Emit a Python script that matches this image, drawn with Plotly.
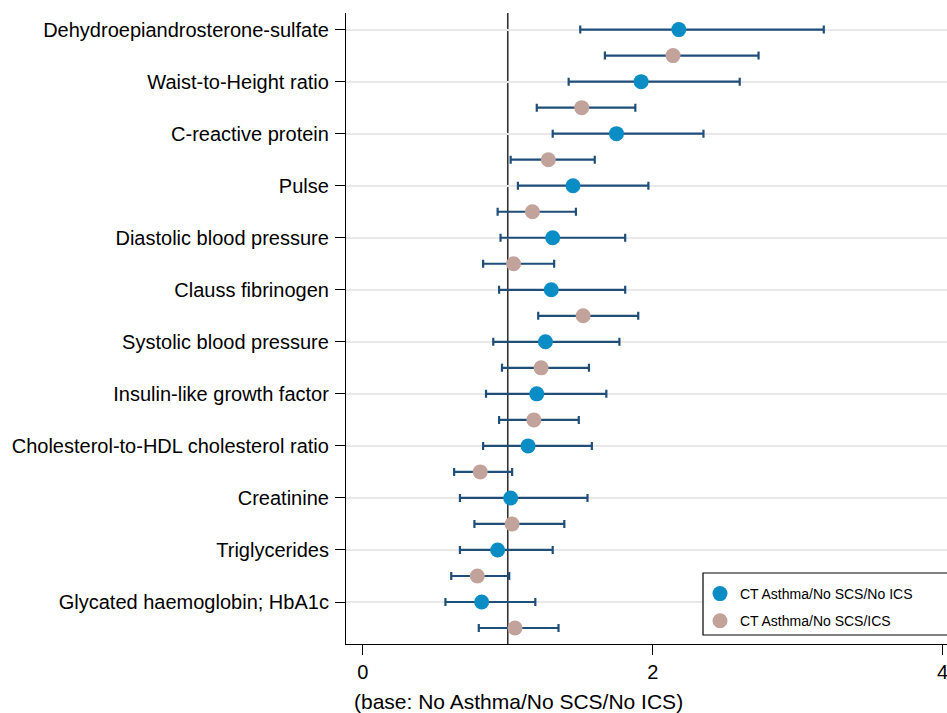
import plotly.graph_objects as go

categories = [
    "Dehydroepiandrosterone-sulfate",
    "Waist-to-Height ratio",
    "C-reactive protein",
    "Pulse",
    "Diastolic blood pressure",
    "Clauss fibrinogen",
    "Systolic blood pressure",
    "Insulin-like growth factor",
    "Cholesterol-to-HDL cholesterol ratio",
    "Creatinine",
    "Triglycerides",
    "Glycated haemoglobin; HbA1c",
]

# CT Asthma/No SCS/No ICS
noics_est = [2.18, 1.92, 1.75, 1.45, 1.31, 1.30, 1.26, 1.20, 1.14, 1.02, 0.93, 0.82]
noics_lo = [1.50, 1.42, 1.31, 1.07, 0.95, 0.94, 0.90, 0.85, 0.83, 0.67, 0.67, 0.57]
noics_hi = [3.18, 2.60, 2.35, 1.97, 1.81, 1.81, 1.77, 1.68, 1.58, 1.55, 1.31, 1.19]

# CT Asthma/No SCS/ICS
ics_est = [2.14, 1.51, 1.28, 1.17, 1.04, 1.52, 1.23, 1.18, 0.81, 1.03, 0.79, 1.05]
ics_lo = [1.67, 1.20, 1.02, 0.93, 0.83, 1.21, 0.96, 0.94, 0.63, 0.77, 0.61, 0.80]
ics_hi = [2.73, 1.88, 1.60, 1.47, 1.32, 1.90, 1.56, 1.49, 1.03, 1.39, 1.01, 1.35]

series_names = ["CT Asthma/No SCS/No ICS", "CT Asthma/No SCS/ICS"]
x_ticks = [0, 2, 4]
x_title = "(base: No Asthma/No SCS/No ICS)"

BLUE = "#0a8cc4"
TAUPE = "#c1a39b"
NAVY = "#1f4e79"
FONT = "Liberation Sans, Arial, Helvetica, sans-serif"

pos = list(range(len(categories)))
pos_ics = [p + 0.5 for p in pos]

fig = go.Figure()


def add_series(name, est, lo, hi, ypos, color, group):
    fig.add_trace(go.Scatter(
        x=est, y=ypos, mode="markers", name=name,
        legendgroup=group,
        marker=dict(color=color, size=15, line=dict(width=0)),
        error_x=dict(type="data", symmetric=False,
                     array=[h - e for h, e in zip(hi, est)],
                     arrayminus=[e - l for e, l in zip(est, lo)],
                     color=NAVY, thickness=2.2, width=4),
    ))


add_series(series_names[0], noics_est, noics_lo, noics_hi, pos, BLUE, "a")
add_series(series_names[1], ics_est, ics_lo, ics_hi, pos_ics, TAUPE, "b")

fig.add_shape(type="line", xref="x", yref="paper", x0=1, x1=1, y0=0, y1=1,
              line=dict(color="#333333", width=1.6), layer="below")

# legend box (extends past right edge like the reference)
fig.add_shape(type="rect", xref="paper", yref="paper",
              x0=(703 - 346) / 601, x1=1.08,
              y0=(644 - 635) / 631, y1=(644 - 573) / 631,
              line=dict(color="#000000", width=1.2), fillcolor="white",
              layer="above")

fig.add_annotation(text=x_title, xref="paper", yref="paper",
                   x=(352 - 346) / 601, y=(644 - 701) / 631,
                   xanchor="left", yanchor="middle", showarrow=False,
                   font=dict(size=21, color="black", family=FONT))

fig.update_layout(
    width=947, height=713,
    margin=dict(l=346, r=0, t=13, b=69, autoexpand=False),
    paper_bgcolor="white", plot_bgcolor="white",
    font=dict(family=FONT, color="black"),
    showlegend=True,
    legend=dict(x=(700 - 346) / 601, y=(644 - 578) / 631,
                xanchor="left", yanchor="top",
                bgcolor="rgba(0,0,0,0)", borderwidth=0,
                font=dict(size=14, color="black", family=FONT),
                tracegroupgap=6, traceorder="grouped"),
    xaxis=dict(range=[-0.116, 4.03], tickvals=x_ticks, automargin=False,
               ticklabeloverflow="allow",
               ticks="outside", ticklen=10, tickwidth=1.2, tickcolor="black",
               showline=True, linecolor="black", linewidth=1.2,
               showgrid=False, zeroline=False,
               tickfont=dict(size=20, color="black")),
    yaxis=dict(range=[11.807, -0.319], tickvals=pos, ticktext=categories,
               automargin=False,
               ticks="outside", ticklen=10, tickwidth=1.2, tickcolor="black",
               showline=True, linecolor="black", linewidth=1.2,
               showgrid=True, gridcolor="#e8e8e8", gridwidth=1.5,
               zeroline=False, ticklabelstandoff=2,
               tickfont=dict(size=20, color="black")),
)

fig.write_html("out.html",
               config={"displayModeBar": False},
               post_script="document.body.style.margin='0';"
                           "document.body.style.overflow='hidden';")
